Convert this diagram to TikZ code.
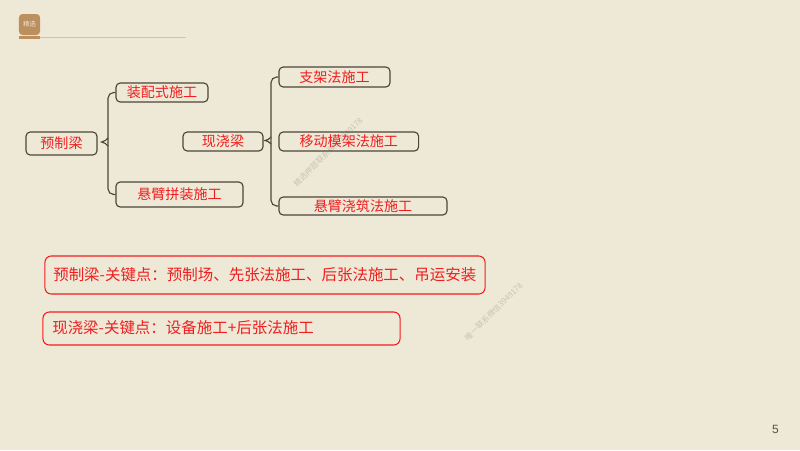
\documentclass[tikz,border=0pt]{standalone}
\usepackage{fontspec}
\setmainfont{Noto Sans CJK SC}
\newfontfamily\latinfont{Liberation Sans}
\definecolor{paper}{HTML}{EEE8D7}
\definecolor{boxline}{HTML}{4A4636}
\definecolor{keyred}{HTML}{F01E1E}
\definecolor{tan}{HTML}{BC8F5F}
\tikzstyle{branch} = [draw=boxline, line width=0.8pt, rounded corners=4pt]
\tikzstyle{keybox} = [rectangle, rounded corners=4.5pt, draw=keyred, line width=0.75pt, inner sep=0pt]
\tikzstyle{keytext} = [inner sep=0pt, anchor=west, text=keyred, font=\fontsize{11pt}{12pt}\selectfont]

\begin{document}
\begin{tikzpicture}[
            x=0.025cm, y=-0.025cm,
            every node/.style={text centered},
            method/.style={rectangle, rounded corners=3pt, draw=boxline, line width=0.8pt, inner sep=0pt, text=keyred, font=\fontsize{10pt}{12pt}\selectfont},
            stamp/.style={inner sep=0pt, rotate=45, text=black!16!paper, font=\fontsize{5.6pt}{6pt}\selectfont}
        ]
            \fill [paper] (0,0) rectangle (800,450);
            \useasboundingbox (0,0) rectangle (800,450);

            % Stamps
            \node (stampone) [stamp] at (328,152) {精选押题联系微信3949178};
            \node (stamptwo) [stamp] at (493.5,311.5) {唯一联系微信3949178};

            % Header
            \node (icon) [rectangle, rounded corners=2.5pt, fill=tan, text=paper, minimum width=0.525cm, minimum height=0.525cm, inner sep=0pt, font=\fontsize{4.5pt}{5pt}\selectfont] at (29.5,24.5) {精选};
            \coordinate (rulestart) at (19,37.5);
            \coordinate (ruleend) at (186,37.5);
            \coordinate (tabend) at (40,37.5);
            \draw [black!16!paper, line width=1pt] (rulestart) -- (ruleend);
            \draw [tan, line width=1.8pt] (rulestart) -- (tabend);

            % Nodes
            \node (yuzhi) [method, minimum width=1.775cm, minimum height=0.575cm] at (61.5,143.5) {预制梁};
            \node (zhuangpei) [method, minimum width=2.3cm, minimum height=0.475cm] at (162,92.5) {装配式施工};
            \node (xuanbi) [method, minimum width=3.175cm, minimum height=0.625cm] at (179.5,194.5) {悬臂拼装施工};
            \node (xianjiao) [method, minimum width=2cm, minimum height=0.475cm] at (223,141.5) {现浇梁};
            \node (zhijia) [method, minimum width=2.775cm, minimum height=0.5cm] at (334.5,77) {支架法施工};
            \node (yidong) [method, minimum width=3.49cm, minimum height=0.475cm] at (348.8,141.5) {移动模架法施工};
            \node (jiaozhu) [method, minimum width=4.2cm, minimum height=0.45cm] at (363,206) {悬臂浇筑法施工};

            % Key points
            \node (keyone) [keybox, minimum width=11cm, minimum height=0.95cm] at (265,275) {};
            \node [keytext] at (53,274.5) {预制梁-关键点：预制场、先张法施工、后张法施工、吊运安装};
            \node (keytwo) [keybox, minimum width=8.925cm, minimum height=0.825cm] at (221.5,328.5) {};
            \node [keytext] at (52,328) {现浇梁-关键点：设备施工+后张法施工};

            % Page number
            \node (pagenum) [inner sep=0pt, text=black!65!paper, font=\latinfont\fontsize{8.5pt}{10pt}\selectfont] at (775.5,429.5) {5};

            % Arrows
            \coordinate (forkone) at (108,142);
            \coordinate (tipone) at (101.5,142);
            \coordinate (forktwo) at (271,140.5);
            \coordinate (tiptwo) at (265,140.5);
            \draw [draw=boxline, line width=0.8pt] (108,138) .. controls (107,140) and (104,141.5) .. (tipone) .. controls (104,142.5) and (107,144) .. (108,146);
            \draw [branch] (forkone) |- (zhuangpei.west);
            \draw [branch] (forkone) |- (xuanbi.west);
            \draw [draw=boxline, line width=0.8pt] (271,137) .. controls (270,139) and (267,140) .. (tiptwo) .. controls (267,141) and (270,142) .. (271,144);
            \draw [branch] (forktwo) |- (zhijia.west);
            \draw [branch] (forktwo) |- (jiaozhu.west);
        \end{tikzpicture}
\end{document}
